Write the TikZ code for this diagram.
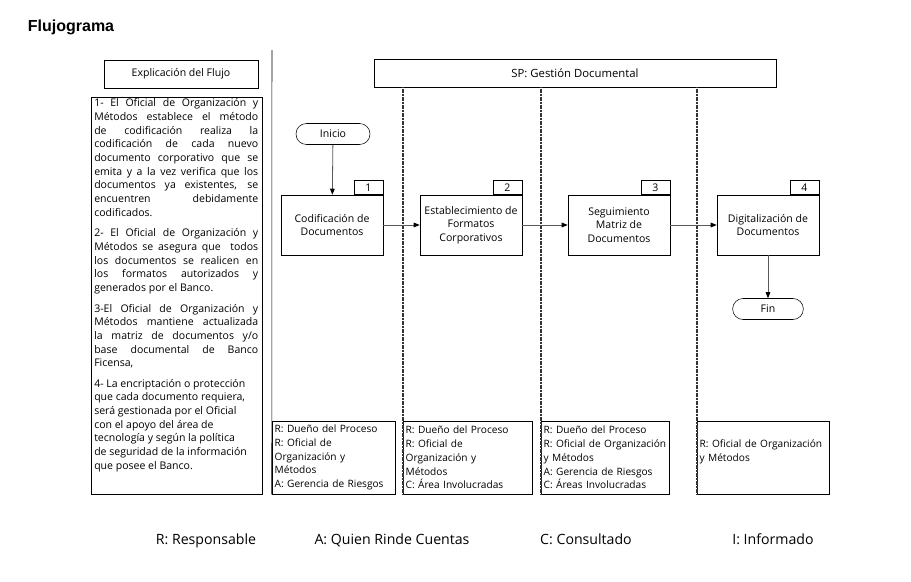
\documentclass[tikz,border=0pt]{standalone}
\usepackage{fontspec}
\setmainfont{Open Sans}
\newfontfamily\titlefont{Liberation Sans}
\usetikzlibrary{arrows.meta,positioning}

\newcommand{\bodysize}{\fontsize{7.9}{10.25}\selectfont}
\newcommand{\racisize}{\fontsize{7.6}{10.3}\selectfont}

\tikzset{
  stepbox/.style={draw, minimum width=76.5pt, minimum height=45pt, align=center, inner sep=1pt, font=\bodysize},
  numtab/.style={draw, minimum width=21.75pt, minimum height=10.5pt, inner sep=0pt, font=\bodysize},
  terminal/.style={draw, rounded corners=7.8pt, minimum height=15.75pt, inner sep=1pt, font=\bodysize},
  headbox/.style={draw, minimum height=21pt, inner sep=1pt},
  racibox/.style={draw, minimum height=54.75pt, align=left, inner xsep=2pt, inner ysep=0pt, font=\racisize},
  legend/.style={anchor=base, font=\fontsize{10.6}{12}\selectfont},
  lane/.style={line width=1.2pt, dash pattern=on 0.9pt off 0.3pt, black!80},
  flow/.style={black!65, line width=0.6pt, -{Triangle[length=4.5pt,width=3.5pt,color=black]}},
}

\begin{document}
\begin{tikzpicture}[x=0.75pt,y=0.75pt,yscale=-1,xscale=1]
    \useasboundingbox (0,0) rectangle (911,582);

    % Text Node
    \node[font=\titlefont\bfseries\fontsize{12}{14}\selectfont] (title) at (71,27) {Flujograma};

    % Text Node
    \node[headbox, minimum width=115.5pt, font=\bodysize] (explhead) at (181,74) {Explicación del Flujo};
    \node[headbox, minimum width=301.5pt, font=\fontsize{8.5}{10}\selectfont] (sp) at (575,73) {SP: Gestión Documental};

    % Text Node
    \draw (91,97) rectangle (262,494);
    \node[anchor=north west, inner sep=0pt, text width=123pt, align=justify, font=\bodysize] (flowtext) at (94,98.5) {%
      \tolerance=10000 \hyphenpenalty=10000 \exhyphenpenalty=10000 \parskip=5.2pt
      1- El Oficial de Organización y\linebreak Métodos establece el método\linebreak de codificación realiza la\linebreak codificación de cada nuevo\linebreak documento corporativo que se\linebreak emita y a la vez verifica que los\linebreak documentos ya existentes, se\linebreak encuentren debidamente\linebreak codificados.\par
      2- El Oficial de Organización y\linebreak Métodos se asegura que\ \ todos\linebreak los documentos se realicen en\linebreak los formatos autorizados y\linebreak generados por el Banco.\par
      3-El Oficial de Organización y\linebreak Métodos mantiene actualizada\linebreak la matriz de documentos y/o\linebreak base documental de Banco\linebreak Ficensa,\par
      {\raggedright 4- La encriptación o protección\\ que cada documento requiera,\\ será gestionada por el Oficial\\ con el apoyo del área de\\ tecnología y según la política\\ de seguridad de la información\\ que posee el Banco.\par}%
    };

    % Text Node
    \node[terminal, minimum width=55.5pt] (inicio) at (333,134) {Inicio};
    \node[stepbox] (cod) at (332,225) {Codificación de\\Documentos};
    \node[stepbox] (est) at (471,225) {Establecimiento de\\Formatos\\Corporativos};
    \node[stepbox] (seg) at (619,225) {Seguimiento\\Matriz de\\Documentos};
    \node[stepbox] (dig) at (768,225) {Digitalización de\\Documentos};
    \node[terminal, minimum width=53pt] (fin) at (768,309) {Fin};

    % Text Node
    \node[numtab, anchor=south east] (n1) at (cod.north east) {1};
    \node[numtab, anchor=south east] (n2) at (est.north east) {2};
    \node[numtab, anchor=south east] (n3) at (seg.north east) {3};
    \node[numtab, anchor=south east] (n4) at (dig.north east) {4};

    % Text Node
    \node[racibox, text width=88.25pt] (raci1) at (333.5,457.5) {R: Dueño del Proceso\\R: Oficial de\\Organización y\\Métodos\\A: Gerencia de Riesgos};
    \node[racibox, text width=92.75pt] (raci2) at (467.5,457.5) {R: Dueño del Proceso\\R: Oficial de\\Organización y\\Métodos\\C: Área Involucradas};
    \node[racibox, text width=92pt] (raci3) at (605,457.5) {R: Dueño del Proceso\\R: Oficial de Organización\\y Métodos\\A: Gerencia de Riesgos\\C: Áreas Involucradas};
    \node[racibox, text width=95pt] (raci4) at (763,457.5) {R: Oficial de Organización\\y Métodos\\ \mbox{}};

    % Lanes
    \draw (272,50) -- (raci1.south west);
    \draw[lane] (sp.south -| raci2.west) -- (raci2.south west);
    \draw[lane] (sp.south -| raci3.west) -- (raci3.south west);
    \draw[lane] (sp.south -| raci4.west) -- (raci4.south west);

    % Connection
    \draw[flow] (inicio) -- (cod);
    \draw[flow] (cod) -- (est);
    \draw[flow] (est) -- (seg);
    \draw[flow] (seg) -- (dig);
    \draw[flow] (dig) -- (fin);

    % Text Node
    \node[legend] (lgr) at (206,544) {R: Responsable};
    \node[legend] (lga) at (392,544) {A: Quien Rinde Cuentas};
    \node[legend] (lgc) at (586,544) {C: Consultado};
    \node[legend] (lgi) at (773,544) {I: Informado};

\end{tikzpicture}
\end{document}
